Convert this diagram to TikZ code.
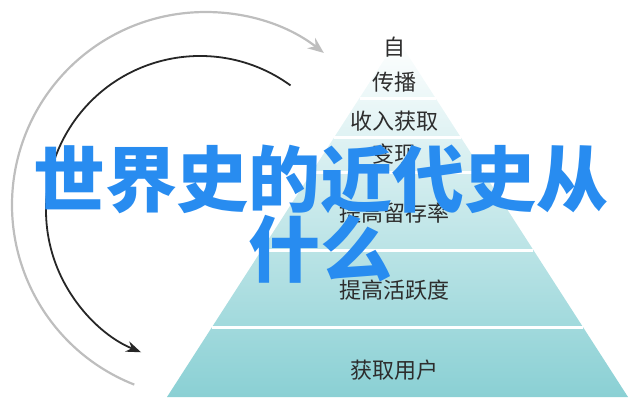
\documentclass[tikz,border=0pt]{standalone}
\usepackage{fontspec}
\newfontfamily\cjk{Noto Sans CJK SC}
\usepackage{tikz}
\usetikzlibrary{positioning, shapes, arrows.meta, calc}

\definecolor{pyrteal}{RGB}{138,208,212}
\definecolor{pyrmid}{RGB}{196,232,234}
\definecolor{titleblue}{RGB}{40,140,240}
\definecolor{arcgray}{RGB}{190,190,190}
\definecolor{labelgray}{RGB}{45,45,45}

\tikzset{
    layerlabel/.style={align=center, text=labelgray, font=\cjk\fontsize{22}{22}\selectfont},
    sep/.style={white, line width=3pt}
}

\begin{document}
\begin{tikzpicture}[x=1pt, y=-1pt]
            \useasboundingbox (0,0) rectangle (640,412);
            
            % Pyramid, fading to white at the top
            \coordinate (apex) at (397.5, 39);
            \coordinate (bl) at (167, 397);
            \coordinate (br) at (628, 397);
            \shade[top color=white, middle color=pyrmid, bottom color=pyrteal] (apex) -- (bl) -- (br) -- cycle;
            
            % White gaps between the layers
            \draw[sep] (359.5, 98) -- (435.5, 98);
            \draw[sep] (334.4, 137) -- (460.6, 137);
            \draw[sep] (311.9, 172) -- (483.1, 172);
            \draw[sep] (261.6, 250) -- (533.4, 250);
            \draw[sep] (212.1, 327) -- (582.9, 327);
            
            \node (self) at (394, 47) [layerlabel] {自};
            \node (spread) at (394, 82) [layerlabel] {传播};
            \node (revenue) at (394, 121) [layerlabel] {收入获取};
            \node (monetize) at (394, 154) [layerlabel] {变现};
            \node (retention) at (394, 213) [layerlabel] {提高留存率};
            \node (activity) at (394, 290) [layerlabel] {提高活跃度};
            \node (acquire) at (394, 370) [layerlabel] {获取用户};
            
            % Outer gray arrow
            \coordinate (outerstart) at (134.3, 384.6);
            \draw[-{Stealth[length=16pt, width=13pt]}, line width=2.2pt, color=arcgray] (outerstart) arc[start angle=-248.5, end angle=-52, radius=193];
            
            % Inner black arrow
            \coordinate (innerstart) at (290.5, 85.4);
            \draw[-{Stealth[length=15pt, width=11pt]}, line width=1.8pt, color=black!85] (innerstart) arc[start angle=-54, end angle=-247.5, radius=154];
            
            \node (title) at (321, 214) [align=center, text=titleblue] {
                \cjk\bfseries\fontsize{72}{73}\selectfont 世界史的近代史从\\
                \cjk\bfseries\fontsize{72}{73}\selectfont 什么
            };
            
        \end{tikzpicture}
\end{document}
